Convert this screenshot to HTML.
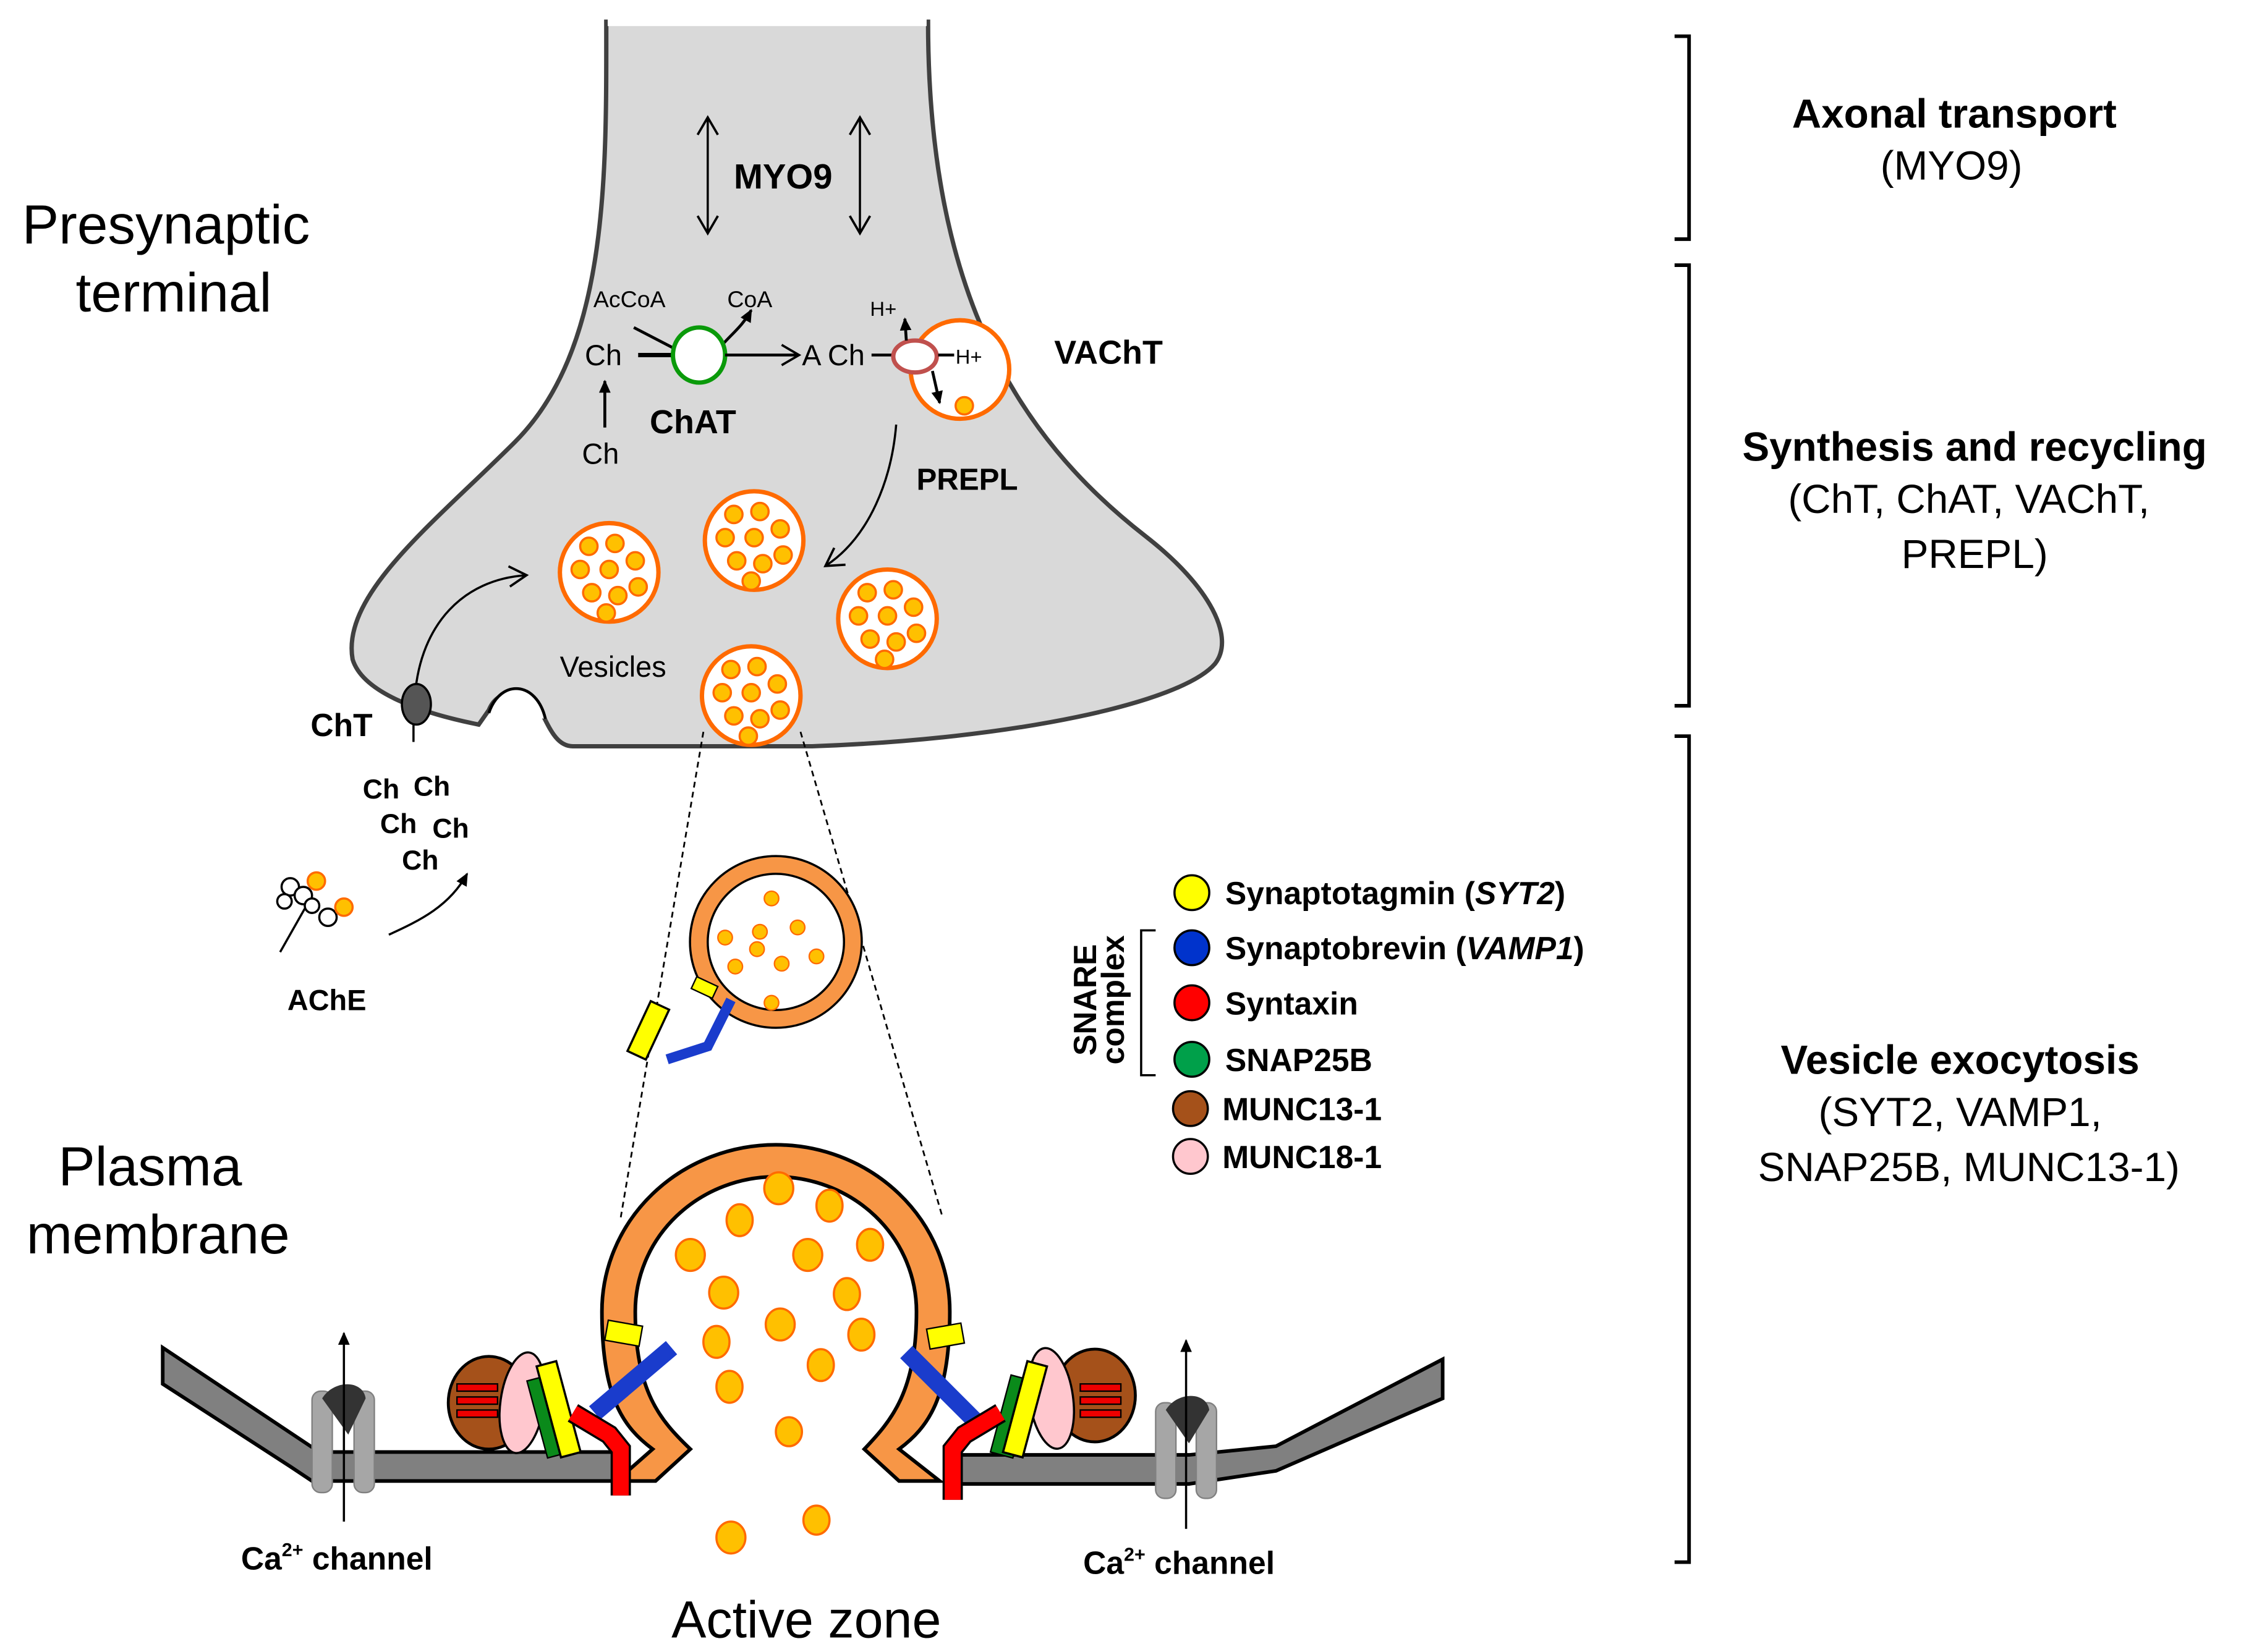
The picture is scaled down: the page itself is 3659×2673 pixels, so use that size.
<!DOCTYPE html>
<html><head><meta charset="utf-8"><style>html,body{margin:0;padding:0;background:#fff}svg{display:block}</style></head>
<body>
<svg width="3659" height="2673" viewBox="0 0 1560 1140" xmlns="http://www.w3.org/2000/svg" font-family="Liberation Sans, Arial, sans-serif">
<defs>
<marker id="ah" markerWidth="10" markerHeight="10" refX="8" refY="5" orient="auto" markerUnits="userSpaceOnUse"><path d="M0,1 L9,5 L0,9 Z" fill="#000"/></marker>
<marker id="oa" markerWidth="16" markerHeight="16" refX="12" refY="8" orient="auto-start-reverse" markerUnits="userSpaceOnUse"><path d="M1,1 L13,8 L1,15" fill="none" stroke="#000" stroke-width="1.6"/></marker>
<g id="dot"><circle r="6" fill="#ffc000" stroke="#ff6a00" stroke-width="1.5"/></g>
<g id="ves">
<circle r="34" fill="#fff" stroke="#ff6a00" stroke-width="3"/>
<use href="#dot" x="-14" y="-18"/><use href="#dot" x="4" y="-20"/><use href="#dot" x="18" y="-8"/>
<use href="#dot" x="-20" y="-2"/><use href="#dot" x="0" y="-2"/><use href="#dot" x="-12" y="14"/>
<use href="#dot" x="6" y="16"/><use href="#dot" x="20" y="10"/><use href="#dot" x="-2" y="28"/>
</g>
</defs>

<!-- terminal -->
<path d="M418,15 L640,15 C640,200 700,300 790,370 C835,405 852,440 838,458 C815,485 700,510 560,515 L395,515 C385,515 380,505 375,495 C370,480 345,470 337,490 L330,500 C290,492 250,478 243,455 C235,410 300,360 355,305 C420,240 418,120 418,15 Z" fill="#d9d9d9" stroke="#404040" stroke-width="3"/>
<rect x="419" y="10" width="220" height="8" fill="#fff"/>
<path d="M337,492 C345,468 370,470 376,496" fill="#fff" stroke="#000" stroke-width="2"/>

<!-- MYO9 -->
<line x1="488" y1="82" x2="488" y2="160" stroke="#000" stroke-width="1.5" marker-end="url(#oa)" marker-start="url(#oa)"/>
<line x1="593" y1="82" x2="593" y2="160" stroke="#000" stroke-width="1.5" marker-end="url(#oa)" marker-start="url(#oa)"/>
<text x="540" y="130" font-size="24" font-weight="bold" text-anchor="middle">MYO9</text>

<!-- synthesis -->
<text x="434" y="212" font-size="16" text-anchor="middle">AcCoA</text>
<text x="517" y="212" font-size="16" text-anchor="middle">CoA</text>
<text x="416" y="252" font-size="20" text-anchor="middle">Ch</text>
<text x="414" y="320" font-size="20" text-anchor="middle">Ch</text>
<line x1="417" y1="295" x2="417" y2="263" stroke="#000" stroke-width="2" marker-end="url(#ah)"/>
<line x1="440" y1="245" x2="465" y2="245" stroke="#000" stroke-width="3"/>
<line x1="437" y1="226" x2="464" y2="240" stroke="#000" stroke-width="2"/>
<path d="M498,238 C505,230 512,225 518,214" fill="none" stroke="#000" stroke-width="2" marker-end="url(#ah)"/>
<ellipse cx="482" cy="245" rx="18" ry="19" fill="#fff" stroke="#0a9a0a" stroke-width="3"/>
<line x1="500" y1="245" x2="550" y2="245" stroke="#000" stroke-width="2" marker-end="url(#oa)"/>
<text x="553" y="252" font-size="20">A Ch</text>
<text x="448" y="299" font-size="23" font-weight="bold">ChAT</text>
<circle cx="662" cy="255" r="34" fill="#fff" stroke="#ff6a00" stroke-width="3"/>
<use href="#dot" x="665" y="280"/>
<line x1="601" y1="245" x2="616" y2="245" stroke="#000" stroke-width="2"/>
<ellipse cx="631" cy="246" rx="15" ry="11" fill="#fff" stroke="#c0504d" stroke-width="3"/>
<line x1="647" y1="245" x2="658" y2="245" stroke="#000" stroke-width="2"/>
<text x="659" y="251" font-size="14">H+</text>
<text x="600" y="218" font-size="14">H+</text>
<line x1="625" y1="235" x2="624" y2="220" stroke="#000" stroke-width="2" marker-end="url(#ah)"/>
<line x1="643" y1="256" x2="648" y2="278" stroke="#000" stroke-width="2" marker-end="url(#ah)"/>
<text x="727" y="251" font-size="23" font-weight="bold">VAChT</text>
<text x="632" y="338" font-size="21" font-weight="bold">PREPL</text>
<path d="M618,293 C615,330 600,370 570,390" fill="none" stroke="#000" stroke-width="1.5" marker-end="url(#oa)"/>

<use href="#ves" x="420" y="395"/>
<use href="#ves" x="520" y="373"/>
<use href="#ves" x="612" y="427"/>
<use href="#ves" x="518" y="480"/>
<text x="386" y="467" font-size="20">Vesicles</text>

<!-- ChT -->
<path d="M286,480 C290,430 320,400 362,397" fill="none" stroke="#000" stroke-width="1.5" marker-end="url(#oa)"/>
<ellipse cx="287" cy="486" rx="10" ry="14" fill="#555" stroke="#000" stroke-width="1.5"/>
<line x1="285" y1="500" x2="285" y2="512" stroke="#000" stroke-width="1.5"/>
<text x="214" y="508" font-size="22" font-weight="bold">ChT</text>
<g font-size="19" font-weight="bold"><text x="250" y="551">Ch</text><text x="285" y="549">Ch</text><text x="262" y="575">Ch</text><text x="298" y="578">Ch</text><text x="277" y="600">Ch</text></g>
<path d="M268,645 C290,635 310,625 322,603" fill="none" stroke="#000" stroke-width="1.5" marker-end="url(#ah)"/>
<!-- AChE -->
<g stroke="#000" stroke-width="1.5" fill="#fff">
<line x1="193" y1="657" x2="210" y2="627"/>
<circle cx="200" cy="612" r="6"/><circle cx="209" cy="618" r="6"/><circle cx="196" cy="622" r="5"/><circle cx="226" cy="633" r="6"/><circle cx="215" cy="625" r="5"/>
</g>
<circle cx="218" cy="608" r="6" fill="#ffc000" stroke="#ff6a00" stroke-width="1.5"/>
<circle cx="237" cy="626" r="6" fill="#ffc000" stroke="#ff6a00" stroke-width="1.5"/>
<text x="198" y="697" font-size="20" font-weight="bold">AChE</text>

<!-- dashed cone -->
<line x1="485" y1="505" x2="428" y2="840" stroke="#000" stroke-width="1.2" stroke-dasharray="4,3"/>
<line x1="552" y1="505" x2="650" y2="840" stroke="#000" stroke-width="1.2" stroke-dasharray="4,3"/>

<!-- small zoomed vesicle -->
<circle cx="535" cy="650" r="59" fill="none" stroke="#000" stroke-width="2"/>
<circle cx="535" cy="650" r="53" fill="none" stroke="#f79646" stroke-width="11"/>
<circle cx="535" cy="650" r="47" fill="#fff" stroke="#000" stroke-width="1.5"/>
<g fill="#ffc000" stroke="#ff6a00" stroke-width="1"><circle cx="532" cy="620" r="5"/><circle cx="500" cy="647" r="5"/><circle cx="524" cy="643" r="5"/><circle cx="550" cy="640" r="5"/><circle cx="522" cy="655" r="5"/><circle cx="563" cy="660" r="5"/><circle cx="507" cy="667" r="5"/><circle cx="539" cy="665" r="5"/><circle cx="532" cy="692" r="5"/></g>
<rect x="478" y="677" width="16" height="9" fill="#ffff00" stroke="#000" transform="rotate(25 486 681)"/>
<rect x="440" y="692" width="14" height="38" fill="#ffff00" stroke="#000" stroke-width="1.5" transform="rotate(25 447 711)"/>
<path d="M460,731 L488,722 L504,690" fill="none" stroke="#1a3ccc" stroke-width="7"/>

<!-- membrane -->
<path d="M112,930 L112,955 L200,1012 L215,1022 L430,1022 L430,1002 L220,1002 L112,930 Z" fill="#808080" stroke="#000" stroke-width="2.5"/>
<path d="M995,938 L995,965 L880,1015 L820,1024 L652,1024 L652,1004 L820,1004 L880,998 Z" fill="#808080" stroke="#000" stroke-width="2.5"/>
<!-- Ca channels -->
<g fill="#a6a6a6" stroke="#808080" stroke-width="1">
<rect x="215" y="960" width="14" height="70" rx="6"/><rect x="244" y="960" width="14" height="70" rx="6"/>
<rect x="797" y="968" width="14" height="66" rx="6"/><rect x="825" y="968" width="14" height="66" rx="6"/>
</g>
<path d="M222,965 C230,952 250,952 252,965 L240,990 Z" fill="#333"/>
<path d="M804,973 C812,960 832,960 834,973 L820,996 Z" fill="#333"/>
<line x1="237" y1="1050" x2="237" y2="920" stroke="#000" stroke-width="1.5" marker-end="url(#ah)"/>
<line x1="818" y1="1055" x2="818" y2="925" stroke="#000" stroke-width="1.5" marker-end="url(#ah)"/>
<text x="166" y="1083" font-size="22" font-weight="bold">Ca<tspan font-size="13" dy="-9">2+</tspan><tspan dy="9"> channel</tspan></text>
<text x="747" y="1086" font-size="22" font-weight="bold">Ca<tspan font-size="13" dy="-9">2+</tspan><tspan dy="9"> channel</tspan></text>

<!-- big fusing vesicle -->
<path d="M425,1022 L450,1000 C430,985 415,965 415,905 A120,115 0 0 1 655,905 C655,965 640,985 620,1000 L648,1022 L620,1022 L596,1000 C615,980 632,960 632,905 A97,93 0 0 0 438,905 C438,960 455,980 476,1000 L452,1022 Z" fill="#f79646" stroke="#000" stroke-width="2.5"/>
<g fill="#ffc000" stroke="#ff6a00" stroke-width="1.5">
<ellipse cx="537" cy="820" rx="10" ry="11"/><ellipse cx="572" cy="832" rx="9" ry="11"/><ellipse cx="510" cy="842" rx="9" ry="11"/>
<ellipse cx="476" cy="866" rx="10" ry="11"/><ellipse cx="557" cy="866" rx="10" ry="11"/><ellipse cx="600" cy="859" rx="9" ry="11"/>
<ellipse cx="499" cy="892" rx="10" ry="11"/><ellipse cx="584" cy="893" rx="9" ry="11"/><ellipse cx="538" cy="914" rx="10" ry="11"/>
<ellipse cx="494" cy="926" rx="9" ry="11"/><ellipse cx="594" cy="921" rx="9" ry="11"/><ellipse cx="566" cy="942" rx="9" ry="11"/>
<ellipse cx="503" cy="957" rx="9" ry="11"/><ellipse cx="544" cy="988" rx="9" ry="10"/><ellipse cx="504" cy="1061" rx="10" ry="11"/><ellipse cx="563" cy="1049" rx="9" ry="10"/>
</g>
<!-- left complex -->
<ellipse cx="337" cy="968" rx="28" ry="32" fill="#a5511a" stroke="#000" stroke-width="2"/>
<g fill="#e00" stroke="#000" stroke-width="1"><rect x="315" y="955" width="28" height="5"/><rect x="315" y="964" width="28" height="5"/><rect x="315" y="973" width="28" height="5"/></g>
<ellipse cx="360" cy="968" rx="15" ry="35" fill="#ffc7ce" stroke="#000" stroke-width="1.5" transform="rotate(8 360 968)"/>
<rect x="370" y="950" width="16" height="55" fill="#0a8a1a" stroke="#000" transform="rotate(-15 378 977)"/>
<rect x="378" y="940" width="14" height="65" fill="#ffff00" stroke="#000" stroke-width="1.5" transform="rotate(-15 385 972)"/>
<path d="M463,930 L410,975" stroke="#1a3ccc" stroke-width="12"/>
<path d="M395,975 L420,990 L428,1000 L428,1032" fill="none" stroke="#000" stroke-width="14"/>
<path d="M395,975 L420,990 L428,1000 L428,1032" fill="none" stroke="#ff0000" stroke-width="11"/>
<rect x="418" y="913" width="24" height="14" fill="#ffff00" stroke="#000" transform="rotate(10 430 920)"/>
<!-- right complex -->
<ellipse cx="755" cy="963" rx="28" ry="32" fill="#a5511a" stroke="#000" stroke-width="2"/>
<g fill="#e00" stroke="#000" stroke-width="1"><rect x="745" y="955" width="28" height="5"/><rect x="745" y="964" width="28" height="5"/><rect x="745" y="973" width="28" height="5"/></g>
<ellipse cx="725" cy="965" rx="15" ry="35" fill="#ffc7ce" stroke="#000" stroke-width="1.5" transform="rotate(-8 725 965)"/>
<rect x="690" y="950" width="16" height="55" fill="#0a8a1a" stroke="#000" transform="rotate(15 698 977)"/>
<rect x="700" y="940" width="14" height="65" fill="#ffff00" stroke="#000" stroke-width="1.5" transform="rotate(15 707 972)"/>
<path d="M625,933 L672,980" stroke="#1a3ccc" stroke-width="12"/>
<path d="M690,975 L665,990 L657,1000 L657,1035" fill="none" stroke="#000" stroke-width="14"/>
<path d="M690,975 L665,990 L657,1000 L657,1035" fill="none" stroke="#ff0000" stroke-width="11"/>
<rect x="640" y="915" width="24" height="14" fill="#ffff00" stroke="#000" transform="rotate(-10 652 922)"/>

<!-- left labels -->
<text x="15" y="168" font-size="38">Presynaptic</text>
<text x="52" y="215" font-size="38">terminal</text>
<text x="40" y="818" font-size="38">Plasma</text>
<text x="18" y="865" font-size="38">membrane</text>
<text x="556" y="1130" font-size="36" text-anchor="middle">Active zone</text>

<!-- legend -->
<g stroke="#000" stroke-width="1.5">
<circle cx="822" cy="616" r="12" fill="#ffff00"/><circle cx="822" cy="654" r="12" fill="#0033cc"/>
<circle cx="822" cy="692" r="12" fill="#ff0000"/><circle cx="822" cy="731" r="12" fill="#00a04a"/>
<circle cx="821" cy="765" r="12" fill="#a5511a"/><circle cx="821" cy="798" r="12" fill="#ffc7ce"/>
</g>
<g font-size="22" font-weight="bold">
<text x="845" y="624">Synaptotagmin (<tspan font-style="italic">SYT2</tspan>)</text>
<text x="845" y="662">Synaptobrevin (<tspan font-style="italic">VAMP1</tspan>)</text>
<text x="845" y="700">Syntaxin</text>
<text x="845" y="739">SNAP25B</text>
<text x="843" y="773">MUNC13-1</text>
<text x="843" y="806">MUNC18-1</text>
</g>
<path d="M797,642 L787,642 L787,742 L797,742" fill="none" stroke="#000" stroke-width="1.5"/>
<text transform="translate(756,690) rotate(-90)" font-size="22" font-weight="bold" text-anchor="middle">SNARE</text>
<text transform="translate(775,690) rotate(-90)" font-size="22" font-weight="bold" text-anchor="middle">complex</text>

<!-- right brackets -->
<g fill="none" stroke="#000" stroke-width="2.5">
<path d="M1155,25 L1165,25 L1165,165 L1155,165"/>
<path d="M1155,183 L1165,183 L1165,487 L1155,487"/>
<path d="M1155,508 L1165,508 L1165,1078 L1155,1078"/>
</g>
<g font-size="28" text-anchor="middle">
<text x="1348" y="88" font-weight="bold">Axonal transport</text>
<text x="1346" y="124">(MYO9)</text>
<text x="1362" y="318" font-weight="bold">Synthesis and recycling</text>
<text x="1358" y="354">(ChT, ChAT, VAChT,</text>
<text x="1362" y="392">PREPL)</text>
<text x="1352" y="741" font-weight="bold">Vesicle exocytosis</text>
<text x="1352" y="777">(SYT2, VAMP1,</text>
<text x="1358" y="815">SNAP25B, MUNC13-1)</text>
</g>
</svg>
</body></html>
